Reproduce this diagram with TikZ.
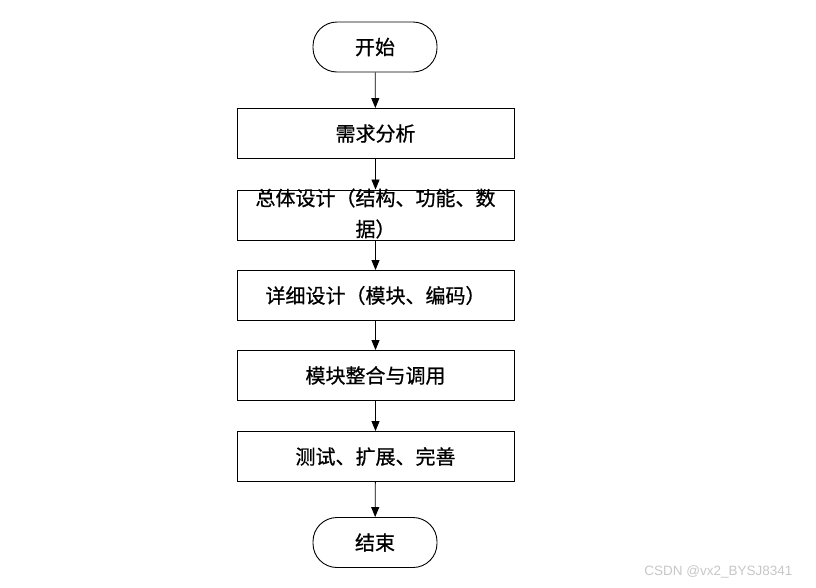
\documentclass[tikz,border=0pt]{standalone}
\usepackage{fontspec}
\newfontfamily\cjk[FakeBold=0.7]{Noto Sans CJK SC}
\setsansfont{Liberation Sans}
\usetikzlibrary{arrows.meta}
\begin{document}
\begin{tikzpicture}[x=1pt,y=-1pt,
  every node/.style={font=\cjk\fontsize{20}{31}\selectfont},
  stepbox/.style={draw,line width=0.9pt,minimum width=277pt,minimum height=50pt,inner sep=0pt},
  term/.style={draw,line width=0.9pt,rounded corners=24pt,minimum width=124pt,minimum height=50pt,inner sep=0pt},
  flow/.style={line width=0.8pt,-{Triangle[length=10pt,width=8pt]}}]
\useasboundingbox (0,0) rectangle (816,587);
\node[term] (s) at (375,47) {开始};
\node[stepbox] (b1) at (375.5,133.5) {需求分析};
\node[stepbox] (b2) at (375.5,215) {};
\node[align=center,inner sep=0pt] (t2) at (375.5,213.5) {总体设计（结构、功能、数\\据）};
\node[stepbox] (b3) at (375.5,295.5) {详细设计（模块、编码）};
\node[stepbox] (b4) at (375.5,375.5) {模块整合与调用};
\node[stepbox] (b5) at (375.5,456.5) {测试、扩展、完善};
\node[term] (e) at (375,542.5) {结束};
\draw[flow] (s) -- (b1);
\draw[flow] (b1) -- (b2);
\draw[flow] (b2) -- (b3);
\draw[flow] (b3) -- (b4);
\draw[flow] (b4) -- (b5);
\draw[flow] (b5) -- (e);
\node[font=\sffamily\fontsize{13.5}{13.5}\selectfont,text=black!22,anchor=east] (wm) at (796,572) {CSDN @vx2\_BYSJ8341};
\end{tikzpicture}
\end{document}
